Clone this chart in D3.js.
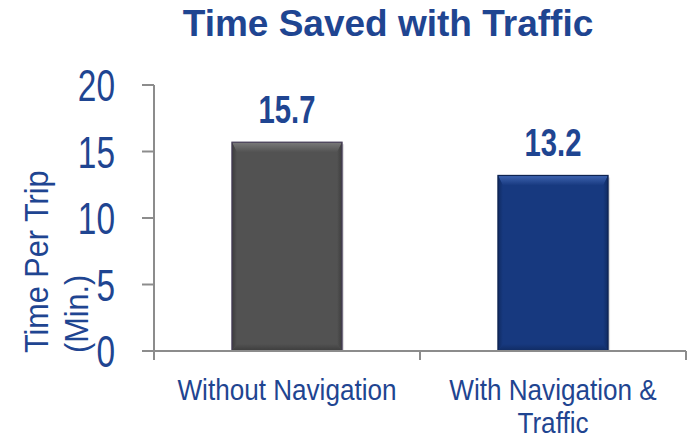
<!DOCTYPE html>
<html lang="en">
  <head>
    <meta charset="UTF-8">
    <title>Time Saved with Traffic</title>
    <script src="https://d3js.org/d3.v7.min.js"></script>
    <style>
      * {
        margin: 0;
        padding: 0;
      }
      body {
        background: #fff;
      }
      body > svg {
        display: block;
      }
      text {
        font-family: "Liberation Sans", Arial, sans-serif;
        fill: #1f4591;
      }
    </style>
  </head>
  <body>
    <script>
      var categories = [["Without Navigation"], ["With Navigation &", "Traffic"]];
      var values = [15.7, 13.2];
      var yTicks = [0, 5, 10, 15, 20];
      var barColors = [
        { base: "#525252", light: "#7a7a7a", dark: "#3c3c3c", edge: "#463d58" },
        { base: "#17397f", light: "#3f64b0", dark: "#102b62", edge: "#0e2350" }
      ];

      var width = 691;
      var height = 439;

      var svg = d3.select("body").append("svg")
        .attr("width", width)
        .attr("height", height);

      var defs = svg.append("defs");

      var x = d3.scaleBand()
        .domain(d3.range(values.length))
        .range([154, 686])
        .paddingInner(0.586)
        .paddingOuter(0.293);

      var y = d3.scaleLinear()
        .domain([0, 20])
        .range([351, 85]);

      // squeeze text horizontally like the narrow font of the original
      function squeeze(sel, k) {
        sel.each(function () {
          var w = this.getComputedTextLength();
          d3.select(this)
            .attr("textLength", w * k)
            .attr("lengthAdjust", "spacingAndGlyphs");
        });
      }

      function gradient(id, x2, y2, from, to) {
        var g = defs.append("linearGradient")
          .attr("id", id)
          .attr("x1", 0).attr("y1", 0)
          .attr("x2", x2).attr("y2", y2);
        g.append("stop").attr("offset", 0).attr("stop-color", from);
        g.append("stop").attr("offset", 1).attr("stop-color", to);
      }

      // title
      svg.append("text")
        .attr("x", 388)
        .attr("y", 36)
        .attr("text-anchor", "middle")
        .attr("font-size", "37px")
        .attr("font-weight", "bold")
        .text("Time Saved with Traffic");

      // y axis
      var axisColor = "#8c8c8c";
      svg.append("line")
        .attr("x1", 154).attr("x2", 154)
        .attr("y1", y(20)).attr("y2", y(0) + 9)
        .attr("stroke", axisColor).attr("stroke-width", 2);

      svg.selectAll(".ytick")
        .data(yTicks)
        .enter().append("line")
        .attr("class", "ytick")
        .attr("x1", 142).attr("x2", 154)
        .attr("y1", function (d) { return y(d); })
        .attr("y2", function (d) { return y(d); })
        .attr("stroke", axisColor).attr("stroke-width", 2);

      svg.selectAll(".ylabel")
        .data(yTicks)
        .enter().append("text")
        .attr("class", "ylabel")
        .attr("x", 115)
        .attr("y", function (d) { return y(d) + 16; })
        .attr("text-anchor", "end")
        .attr("font-size", "44px")
        .text(function (d) { return d; })
        .call(squeeze, 0.76);

      // bars with a soft bevel
      var bar = svg.selectAll(".bar")
        .data(values)
        .enter().append("g")
        .attr("class", "bar");

      bar.each(function (d, i) {
        var g = d3.select(this);
        var c = barColors[i];
        var x0 = x(i), x1 = x(i) + x.bandwidth();
        var y0 = y(d), y1 = y(0);
        var t = 10, b = 7, s = 5;

        gradient("top" + i, 0, 1, c.light, c.base);
        gradient("bot" + i, 0, 1, c.base, c.dark);
        gradient("left" + i, 1, 0, c.dark, c.base);
        gradient("right" + i, 1, 0, c.base, c.dark);

        // soft shadow
        g.append("rect")
          .attr("x", x0 + 2).attr("y", y0 + 2)
          .attr("width", x1 - x0).attr("height", y1 - y0 - 2)
          .attr("fill", "#000").attr("opacity", 0.12);

        g.append("rect")
          .attr("x", x0).attr("y", y0)
          .attr("width", x1 - x0).attr("height", y1 - y0)
          .attr("fill", c.base);
        g.append("polygon")
          .attr("points", [[x0, y0], [x1, y0], [x1 - s, y0 + t], [x0 + s, y0 + t]].join(" "))
          .attr("fill", "url(#top" + i + ")");
        g.append("polygon")
          .attr("points", [[x0, y1], [x1, y1], [x1 - s, y1 - b], [x0 + s, y1 - b]].join(" "))
          .attr("fill", "url(#bot" + i + ")");
        g.append("polygon")
          .attr("points", [[x0, y0], [x0 + s, y0 + t], [x0 + s, y1 - b], [x0, y1]].join(" "))
          .attr("fill", "url(#left" + i + ")");
        g.append("polygon")
          .attr("points", [[x1, y0], [x1 - s, y0 + t], [x1 - s, y1 - b], [x1, y1]].join(" "))
          .attr("fill", "url(#right" + i + ")");
        g.append("rect")
          .attr("x", x0).attr("y", y0)
          .attr("width", x1 - x0).attr("height", y1 - y0)
          .attr("fill", "none")
          .attr("stroke", c.edge).attr("stroke-width", 1.2);
      });

      // x axis
      svg.append("line")
        .attr("x1", 142).attr("x2", 686)
        .attr("y1", y(0)).attr("y2", y(0))
        .attr("stroke", axisColor).attr("stroke-width", 2);

      svg.selectAll(".xtick")
        .data(d3.range(values.length + 1))
        .enter().append("line")
        .attr("class", "xtick")
        .attr("x1", function (d) { return x.range()[0] + d * x.step(); })
        .attr("x2", function (d) { return x.range()[0] + d * x.step(); })
        .attr("y1", y(0)).attr("y2", y(0) + 9)
        .attr("stroke", axisColor).attr("stroke-width", 2);

      // value labels
      svg.selectAll(".value")
        .data(values)
        .enter().append("text")
        .attr("class", "value")
        .attr("x", function (d, i) { return x(i) + x.bandwidth() / 2; })
        .attr("y", function (d) { return y(d) - 19; })
        .attr("text-anchor", "middle")
        .attr("font-size", "39px")
        .attr("font-weight", "bold")
        .text(function (d) { return d.toFixed(1); })
        .call(squeeze, 0.75);

      // category labels
      svg.selectAll(".cat")
        .data(categories)
        .enter().append("g")
        .attr("class", "cat")
        .each(function (lines, i) {
          d3.select(this).selectAll("text")
            .data(lines)
            .enter().append("text")
            .attr("x", x(i) + x.bandwidth() / 2)
            .attr("y", function (d, j) { return 400 + j * 33; })
            .attr("text-anchor", "middle")
            .attr("font-size", "29px")
            .text(function (d) { return d; })
            .call(squeeze, 0.9);
        });

      // y axis title
      var yTitle = ["Time Per Trip", "(Min.)"];
      svg.selectAll(".ytitle")
        .data(yTitle)
        .enter().append("text")
        .attr("class", "ytitle")
        .attr("transform", function (d, i) {
          return "translate(" + (48 + i * 40) + ",353) rotate(-90)";
        })
        .attr("font-size", "34px")
        .text(function (d) { return d; })
        .call(squeeze, 0.9);
    </script>
  </body>
</html>
